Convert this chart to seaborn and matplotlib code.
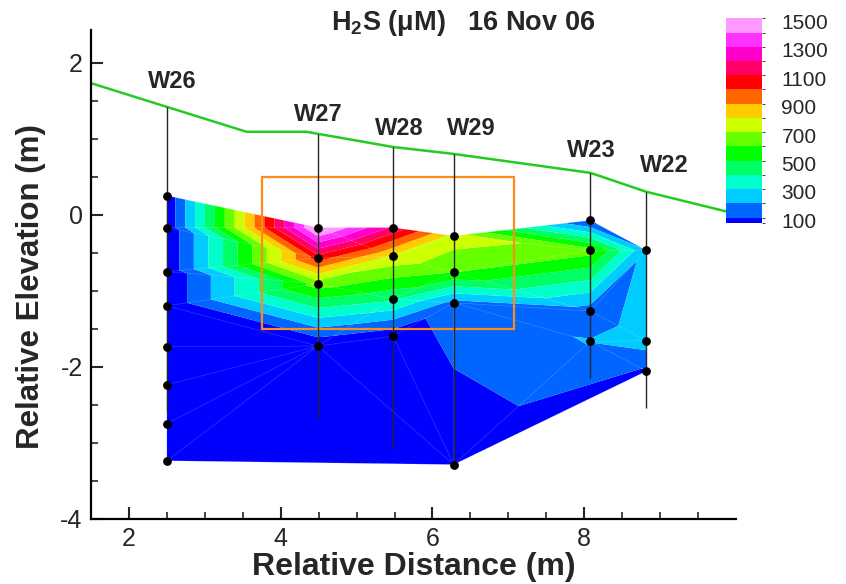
import numpy as np
import pandas as pd
import matplotlib
matplotlib.use("Agg")
import matplotlib.pyplot as plt
import matplotlib.tri as mtri
from matplotlib.colors import ListedColormap, BoundaryNorm
from matplotlib.cm import ScalarMappable
from matplotlib.patches import Rectangle
import seaborn as sns

# -----------------------------------------------------------------------------
# wells
well_names = ["W26", "W27", "W28", "W29", "W23", "W22"]
well_x = [2.50, 4.49, 5.48, 6.28, 8.08, 8.82]
well_bottom = [-2.60, -2.69, -3.09, -3.29, -2.15, -2.54]
label_x = [2.57, 4.49, 5.56, 6.51, 8.09, 9.06]
label_y = [1.75, 1.32, 1.14, 1.14, 0.85, 0.65]

# sample elevations (m) and H2S (uM) for every well
elev_w26 = [0.25, -0.17, -0.75, -1.20, -1.74, -2.24, -2.75, -3.24]
h2s_w26 = [15, 15, 15, 15, 12, 10, 10, 10]
elev_w27 = [-0.17, -0.57, -0.91, -1.73]
h2s_w27 = [1540, 1050, 650, 10]
elev_w28 = [-0.17, -0.55, -1.11, -1.60]
h2s_w28 = [1180, 780, 420, 25]
elev_w29 = [-0.28, -0.76, -1.16, -3.29]
h2s_w29 = [760, 600, 165, 5]
elev_w23 = [-0.075, -0.47, -1.27, -1.67]
h2s_w23 = [70, 640, 150, 205]
elev_w22 = [-0.47, -1.66, -2.06]
h2s_w22 = [210, 250, 90]

# ground surface
ground_x = [1.50, 3.55, 4.34, 5.48, 6.27, 8.08, 8.82, 9.92]
ground_y = [1.73, 1.09, 1.09, 0.89, 0.80, 0.55, 0.30, 0.03]

# orange box
box_x = [3.75, 7.08]
box_y = [-1.50, 0.49]

# contour levels / colours
levels = [-1000, 100, 200, 300, 400, 500, 600, 700, 800, 900, 1000, 1100, 1200, 1300, 1400, 5000]
band_colors = ["#0000FF", "#0066FF", "#00CCFF", "#00FFCC", "#00FF66", "#00FF00", "#66FF00",
               "#CCFF00", "#FFCC00", "#FF6600", "#FF0000", "#FF0066", "#FF00CC", "#FF33FF", "#FF99FF"]
legend_ticks = [100, 300, 500, 700, 900, 1100, 1300, 1500]

# -----------------------------------------------------------------------------
elevs = [elev_w26, elev_w27, elev_w28, elev_w29, elev_w23, elev_w22]
h2s = [h2s_w26, h2s_w27, h2s_w28, h2s_w29, h2s_w23, h2s_w22]
rows = []
for name, x, ee, vv in zip(well_names, well_x, elevs, h2s):
    for e, v in zip(ee, vv):
        rows.append({"well": name, "x": x, "elev": e, "h2s": v})
df = pd.DataFrame(rows)

sns.set_style("ticks")
plt.rcParams["font.family"] = ["Liberation Sans", "DejaVu Sans"]
plt.rcParams["axes.unicode_minus"] = False
plt.rcParams["mathtext.fontset"] = "custom"
plt.rcParams["mathtext.rm"] = "Liberation Sans:bold"
plt.rcParams["mathtext.default"] = "rm"

fig = plt.figure(figsize=(8.46, 5.84), dpi=100)
ax = fig.add_axes([91 / 846, 1 - 518.5 / 584, 645 / 846, 488.5 / 584])

# triangulate, drop the triangles above the top samples (non convex top)
tri = mtri.Triangulation(df["x"], df["elev"])
top_x = np.array(well_x)
top_y = np.array([e[0] for e in elevs])
cx = df["x"].values[tri.triangles].mean(axis=1)
cy = df["elev"].values[tri.triangles].mean(axis=1)
tri.set_mask(cy > np.interp(cx, top_x, top_y) + 1e-6)

ax.tricontourf(tri, df["h2s"], levels=levels, colors=band_colors, antialiased=True)
ax.triplot(tri, color="white", lw=0.4, alpha=0.25)

# wells
tops = np.interp(well_x, ground_x, ground_y)
ax.vlines(well_x, well_bottom, tops, color="0.15", lw=1.0, zorder=4)
sns.scatterplot(data=df, x="x", y="elev", color="k", s=40, edgecolor="k",
                linewidth=0, zorder=5, legend=False, ax=ax)
for n, lx, ly in zip(well_names, label_x, label_y):
    ax.text(lx, ly, n, ha="center", va="center", fontsize=17, fontweight="bold")

sns.lineplot(x=ground_x, y=ground_y, color="#22CC22", lw=1.8, estimator=None, sort=False, ax=ax)
ax.add_patch(Rectangle((box_x[0], box_y[0]), box_x[1] - box_x[0], box_y[1] - box_y[0],
                       fill=False, ec="#FF8C1A", lw=1.6, zorder=3))

ax.set_xlim(1.5, 10)
ax.set_ylim(-4, 2.43)
ax.set_xticks([2, 4, 6, 8])
ax.set_yticks([-4, -2, 0, 2])
ax.set_xticks(np.arange(2.5, 10, 0.5), minor=True)
ax.set_yticks(np.arange(-3.5, 2.4, 0.5), minor=True)
ax.tick_params(which="major", direction="in", length=8.5, width=1.5, labelsize=18, pad=6)
ax.tick_params(which="minor", direction="in", length=5, width=1.2)
for s in ["top", "right"]:
    ax.spines[s].set_visible(False)
for s in ["left", "bottom"]:
    ax.spines[s].set_linewidth(1.6)
    ax.spines[s].set_color("k")
ax.set_xlabel("Relative Distance (m)", fontsize=23, fontweight="bold", labelpad=1)
ax.set_ylabel("Relative Elevation (m)", fontsize=22.5, fontweight="bold")
ax.yaxis.set_label_coords(-0.07, 0.474)

fig.text(463 / 846, 1 - 23 / 584, "H$_2$S (\u03bcM)   16 Nov 06", ha="center", va="center",
         fontsize=19.5, fontweight="bold")

# legend
cax = fig.add_axes([726 / 846, 1 - 223.3 / 584, 36 / 846, 205 / 584])
legend_edges = [80] + [l + 20 for l in levels[1:-1]] + [1520]
sm = ScalarMappable(norm=BoundaryNorm(legend_edges, len(band_colors)),
                    cmap=ListedColormap(band_colors))
cb = fig.colorbar(sm, cax=cax, ticks=legend_ticks, spacing="proportional")
cb.outline.set_visible(False)
cb.ax.tick_params(length=0, labelsize=15, pad=14)

fig.savefig("out.png", dpi=100)
